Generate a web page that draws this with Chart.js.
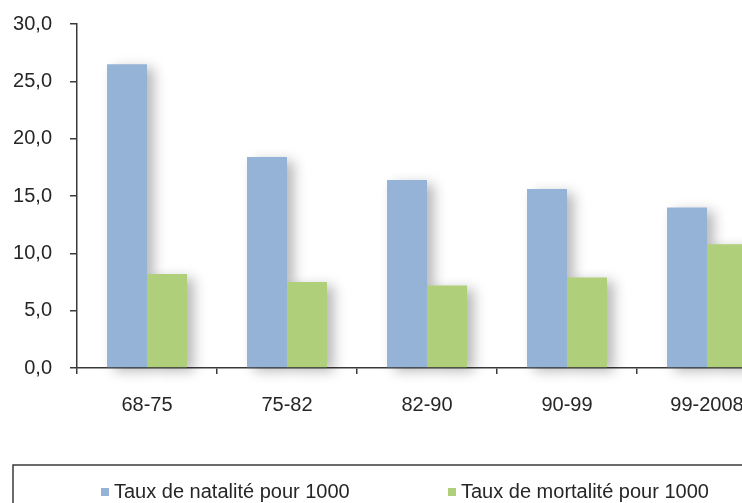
<!DOCTYPE html>
<html>
<head>
<meta charset="utf-8">
<script src="https://cdn.jsdelivr.net/npm/chart.js@4.4.1/dist/chart.umd.min.js"></script>
<style>
  html, body { margin: 0; padding: 0; background: #fff; overflow: hidden; }
  #wrap { position: relative; width: 742px; height: 503px; overflow: hidden; }
  #wrap canvas { position: absolute; left: 0; top: 0; }
</style>
</head>
<body>
<div id="wrap"><canvas id="chart" width="777" height="530"></canvas></div>
<script>
// Periods and rates per 1000 inhabitants
const periods = ['68-75', '75-82', '82-90', '90-99', '99-2008'];
const natalite = [26.5, 18.4, 16.4, 15.6, 14.0];
const mortalite = [8.2, 7.5, 7.2, 7.9, 10.8];
const seriesNames = ['Taux de natalité pour 1000', 'Taux de mortalité pour 1000'];
const yMin = 0, yMax = 30, yStep = 5;

const FONT = 'Liberation Sans, Arial, sans-serif';
const AXIS = '#3a3a3a';
const TEXT = '#262626';

// Soft drop shadow under every bar, painted before the bars themselves
const barShadow = {
  id: 'barShadow',
  beforeDatasetsDraw(chart) {
    const ctx = chart.ctx;
    const far = 5000;
    ctx.save();
    ctx.shadowColor = 'rgba(0,0,0,0.28)';
    ctx.shadowBlur = 12;
    ctx.shadowOffsetX = far + 7;
    ctx.shadowOffsetY = 4;
    ctx.fillStyle = '#000';
    chart.getSortedVisibleDatasetMetas().forEach(meta => {
      meta.data.forEach(bar => {
        const p = bar.getProps(['x', 'y', 'base', 'width'], true);
        ctx.fillRect(p.x - p.width / 2 - far, p.y, p.width, p.base - p.y);
      });
    });
    ctx.restore();
  }
};

// Framed legend row below the plot
const boxLegend = {
  id: 'boxLegend',
  afterDraw(chart, args, o) {
    const ctx = chart.ctx;
    ctx.save();
    ctx.strokeStyle = AXIS;
    ctx.lineWidth = 1.5;
    ctx.strokeRect(o.left, o.top, o.width, o.height);
    ctx.font = '20px ' + FONT;
    ctx.textBaseline = 'middle';
    chart.data.datasets.forEach((ds, i) => {
      const x = o.itemX[i];
      ctx.fillStyle = ds.backgroundColor;
      ctx.fillRect(x, o.rowY - 4, 8, 8);
      ctx.fillStyle = TEXT;
      ctx.fillText(ds.label, x + 13, o.rowY);
    });
    ctx.restore();
  }
};

new Chart(document.getElementById('chart'), {
  type: 'bar',
  data: {
    labels: periods,
    datasets: [
      { label: seriesNames[0], data: natalite, backgroundColor: '#95B3D7' },
      { label: seriesNames[1], data: mortalite, backgroundColor: '#AFCF7A' }
    ]
  },
  options: {
    responsive: false,
    animation: false,
    events: [],
    categoryPercentage: 0.5714,
    barPercentage: 1.0,
    layout: { padding: { top: 24, left: 0, right: 0, bottom: 102 } },
    plugins: {
      legend: { display: false },
      tooltip: { enabled: false },
      boxLegend: { left: 13, top: 465, width: 760, height: 60, rowY: 492, itemX: [101, 448] }
    },
    scales: {
      x: {
        grid: { display: true, drawOnChartArea: false, drawTicks: true, tickLength: 6, color: AXIS, lineWidth: 1.5, offset: true },
        border: { display: true, color: AXIS, width: 1.5 },
        ticks: { font: { family: FONT, size: 20 }, color: TEXT, padding: 19, maxRotation: 0, autoSkip: false },
        afterFit(s) { s.height = 60; }
      },
      y: {
        min: yMin,
        max: yMax,
        grid: { display: true, drawOnChartArea: false, drawTicks: true, tickLength: 7, color: AXIS, lineWidth: 1.5 },
        border: { display: true, color: AXIS, width: 1.5 },
        ticks: {
          stepSize: yStep,
          padding: 18,
          font: { family: FONT, size: 20 },
          color: TEXT,
          callback: v => v.toFixed(1).replace('.', ',')
        },
        afterFit(s) { s.width = 77; s.paddingTop = 0; s.paddingBottom = 0; }
      }
    }
  },
  plugins: [barShadow, boxLegend]
});
</script>
</body>
</html>
